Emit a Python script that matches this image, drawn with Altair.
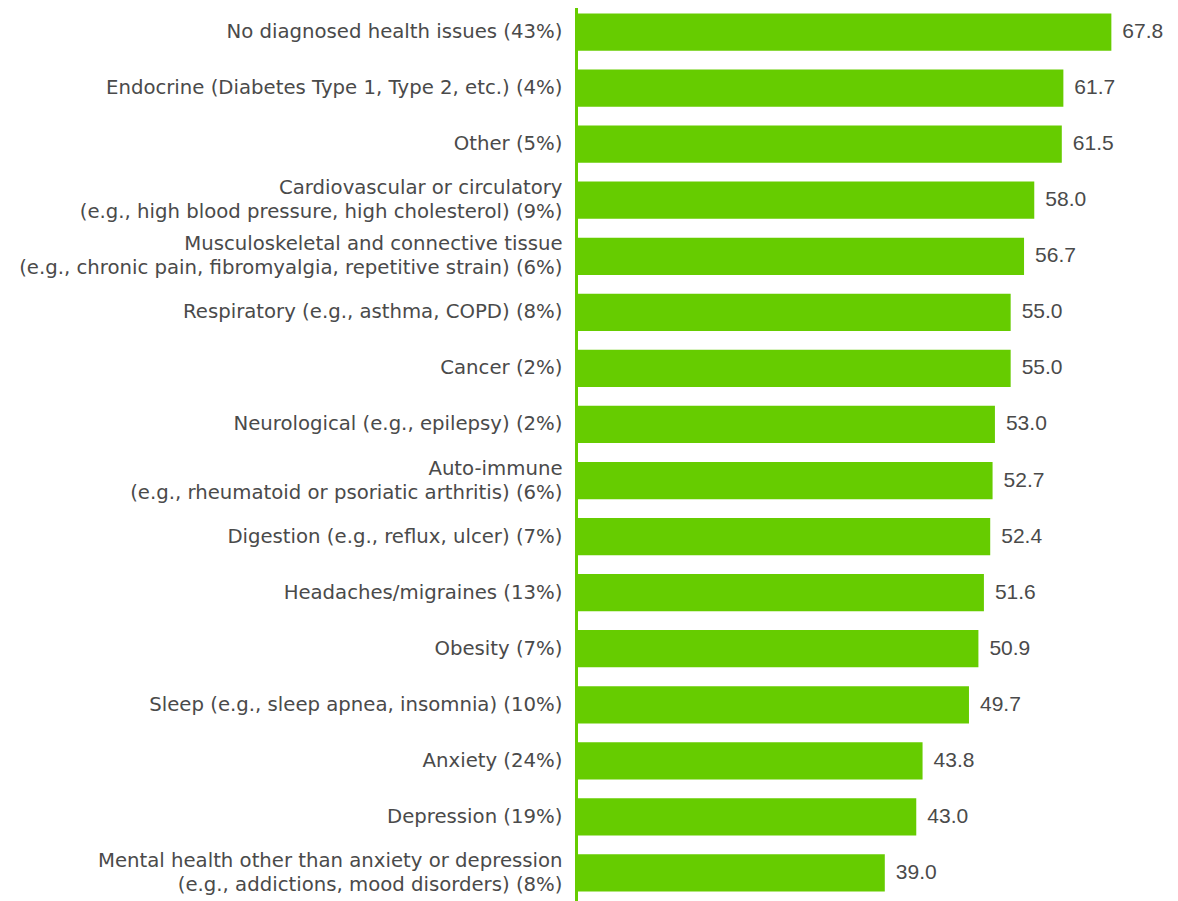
import altair as alt
import pandas as pd

categories = [
    "No diagnosed health issues (43%)",
    "Endocrine (Diabetes Type 1, Type 2, etc.) (4%)",
    "Other (5%)",
    "Cardiovascular or circulatory\n(e.g., high blood pressure, high cholesterol) (9%)",
    "Musculoskeletal and connective tissue\n(e.g., chronic pain, fibromyalgia, repetitive strain) (6%)",
    "Respiratory (e.g., asthma, COPD) (8%)",
    "Cancer (2%)",
    "Neurological (e.g., epilepsy) (2%)",
    "Auto-immune\n(e.g., rheumatoid or psoriatic arthritis) (6%)",
    "Digestion (e.g., reflux, ulcer) (7%)",
    "Headaches/migraines (13%)",
    "Obesity (7%)",
    "Sleep (e.g., sleep apnea, insomnia) (10%)",
    "Anxiety (24%)",
    "Depression (19%)",
    "Mental health other than anxiety or depression\n(e.g., addictions, mood disorders) (8%)",
]
values = [67.8, 61.7, 61.5, 58.0, 56.7, 55.0, 55.0, 53.0, 52.7, 52.4, 51.6, 50.9, 49.7, 43.8, 43.0, 39.0]

df = pd.DataFrame({"category": categories, "value": values})

GREEN = "#66CC00"
TEXT = "#4a4a4a"
LABEL_FONT = "DejaVu Sans"
VALUE_FONT = "Liberation Sans"

y = alt.Y(
    "category:N",
    sort=categories,
    title=None,
    scale=alt.Scale(paddingInner=0.335, paddingOuter=0.1675),
    axis=alt.Axis(
        labelExpr="split(datum.label, '\\n')",
        labelFont=LABEL_FONT,
        labelFontSize=19.7,
        labelColor=TEXT,
        labelLimit=1000,
        labelLineHeight=24,
        labelPadding=14,
        labelOffset=alt.condition(
            "indexof(datum.value, '\\n') >= 0", alt.value(-12), alt.value(0)
        ),
        ticks=False,
        domainColor=GREEN,
        domainWidth=3,
        offset=2,
        grid=False,
    ),
)
x = alt.X("value:Q", title=None, axis=None, scale=alt.Scale(domain=[0, 75]))

bars = alt.Chart(df).mark_bar(color=GREEN).encode(x=x, y=y)
labels = alt.Chart(df).mark_text(
    align="left", baseline="middle", dx=11, font=VALUE_FONT, fontSize=21, color=TEXT
).encode(x=x, y=y, text=alt.Text("value:Q", format=".1f"))

chart = (
    alt.layer(bars, labels)
    .properties(
        width=590,
        height=897,
        autosize=alt.AutoSizeParams(type="none"),
        padding={"left": 570, "top": -4, "right": 0, "bottom": 0},
    )
    .configure_view(stroke=None)
)

chart.save("out.html", embed_options={"renderer": "svg", "actions": False})
